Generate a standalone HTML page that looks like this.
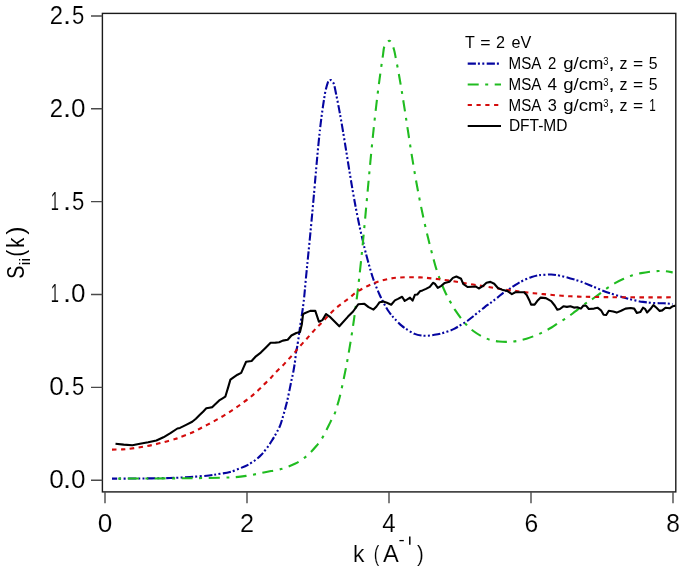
<!DOCTYPE html>
<html><head><meta charset="utf-8"><style>
html,body{margin:0;padding:0;background:#fff;width:685px;height:572px;overflow:hidden}
svg{display:block;will-change:transform}
text{font-family:"Liberation Sans",sans-serif}
text[font-size="25"],text[font-size="24"],text[font-size="22.5"]{stroke:#fff;stroke-width:0.15px}
</style></head><body>
<svg width="685" height="572" viewBox="0 0 685 572" font-family='"Liberation Sans", sans-serif' fill="#000"><rect x="0" y="0" width="685" height="572" fill="#fff"/>
<defs><clipPath id="pc"><rect x="102.4" y="13.4" width="573.4" height="478.5"/></clipPath></defs>
<g clip-path="url(#pc)" fill="none" stroke-width="2.1" stroke-linejoin="round">
<path d="M112.00,478.60 C116.67,478.58 130.33,478.60 140.00,478.50 C149.67,478.40 161.67,478.25 170.00,478.00 C178.33,477.75 183.50,477.42 190.00,477.00 C196.50,476.58 204.00,476.03 209.00,475.50 C214.00,474.97 216.50,474.38 220.00,473.80 C223.50,473.22 226.67,472.92 230.00,472.00 C233.33,471.08 237.00,469.50 240.00,468.30 C243.00,467.10 245.40,466.20 248.00,464.80 C250.60,463.40 253.42,461.53 255.60,459.90 C257.78,458.27 259.17,457.05 261.10,455.00 C263.03,452.95 265.37,450.05 267.20,447.60 C269.03,445.15 270.57,442.75 272.10,440.30 C273.63,437.85 275.07,435.35 276.40,432.90 C277.73,430.45 278.97,428.45 280.10,425.60 C281.23,422.75 282.28,418.87 283.20,415.80 C284.12,412.73 284.80,410.27 285.60,407.20 C286.40,404.13 286.97,402.13 288.00,397.40 C289.03,392.67 291.00,382.60 291.80,378.80 C292.60,375.00 292.42,376.52 292.80,374.60 C293.18,372.68 293.70,369.70 294.10,367.30 C294.50,364.90 294.85,362.92 295.20,360.20 C295.55,357.48 295.88,353.15 296.20,351.00 C296.52,348.85 296.68,349.68 297.10,347.30 C297.52,344.92 298.20,340.20 298.70,336.70 C299.20,333.20 299.62,329.67 300.10,326.30 C300.58,322.93 301.08,319.97 301.60,316.50 C302.12,313.03 302.73,309.17 303.20,305.50 C303.67,301.83 304.04,298.38 304.43,294.50 C304.82,290.62 305.14,286.62 305.55,282.20 C305.97,277.78 306.54,271.93 306.93,268.00 C307.31,264.07 307.45,262.78 307.86,258.60 C308.28,254.42 308.91,248.13 309.42,242.90 C309.94,237.67 310.45,232.45 310.94,227.20 C311.44,221.95 311.94,216.65 312.42,211.40 C312.90,206.15 313.31,201.60 313.83,195.70 C314.35,189.80 315.05,181.62 315.54,176.00 C316.03,170.38 316.35,166.67 316.78,162.00 C317.20,157.33 317.62,152.67 318.07,148.00 C318.52,143.33 319.12,137.55 319.49,134.00 C319.86,130.45 319.95,129.67 320.30,126.70 C320.65,123.73 321.18,119.35 321.59,116.20 C322.00,113.05 322.31,110.78 322.75,107.80 C323.18,104.82 323.76,101.10 324.22,98.30 C324.67,95.50 324.89,93.62 325.48,91.00 C326.08,88.38 327.15,84.33 327.80,82.60 C328.45,80.87 328.90,81.02 329.40,80.60 C329.90,80.18 330.33,80.00 330.80,80.10 C331.27,80.20 331.67,80.50 332.20,81.20 C332.73,81.90 333.35,82.25 333.99,84.30 C334.62,86.35 335.39,90.63 336.00,93.50 C336.60,96.37 337.05,98.60 337.63,101.50 C338.20,104.40 338.85,107.82 339.42,110.90 C340.00,113.98 340.39,116.15 341.06,120.00 C341.74,123.85 342.67,129.33 343.45,134.00 C344.22,138.67 344.97,143.33 345.72,148.00 C346.48,152.67 347.21,157.33 347.96,162.00 C348.71,166.67 349.54,171.82 350.23,176.00 C350.92,180.18 351.40,183.10 352.09,187.10 C352.78,191.10 353.70,196.32 354.36,200.00 C355.03,203.68 355.14,204.45 356.08,209.20 C357.02,213.95 358.61,222.08 360.00,228.50 C361.40,234.92 363.18,242.45 364.46,247.70 C365.73,252.95 366.62,256.20 367.65,260.00 C368.67,263.80 369.70,267.42 370.60,270.50 C371.51,273.58 372.17,275.78 373.10,278.50 C374.03,281.22 375.12,284.08 376.20,286.80 C377.28,289.52 378.65,292.68 379.60,294.80 C380.55,296.92 381.13,297.97 381.90,299.50 C382.67,301.03 383.23,302.25 384.20,304.00 C385.17,305.75 386.35,307.97 387.70,310.00 C389.05,312.03 391.08,314.68 392.30,316.20 C393.52,317.72 393.45,317.53 395.00,319.10 C396.55,320.67 399.42,323.75 401.60,325.60 C403.78,327.45 405.92,328.82 408.10,330.20 C410.28,331.58 412.50,333.02 414.70,333.90 C416.90,334.78 419.10,335.20 421.30,335.50 C423.50,335.80 425.72,335.82 427.90,335.70 C430.08,335.58 432.22,335.17 434.40,334.80 C436.58,334.43 438.80,334.05 441.00,333.50 C443.20,332.95 445.42,332.27 447.60,331.50 C449.78,330.73 451.92,329.98 454.10,328.90 C456.28,327.82 458.50,326.32 460.70,325.00 C462.90,323.68 465.12,322.53 467.30,321.00 C469.48,319.47 471.62,317.55 473.80,315.80 C475.98,314.05 478.53,312.00 480.40,310.50 C482.27,309.00 483.55,307.90 485.00,306.80 C486.45,305.70 487.78,304.85 489.10,303.90 C490.42,302.95 491.50,302.15 492.90,301.10 C494.30,300.05 495.68,299.05 497.50,297.60 C499.32,296.15 501.82,293.85 503.80,292.40 C505.78,290.95 507.77,289.95 509.40,288.90 C511.03,287.85 511.97,287.15 513.60,286.10 C515.23,285.05 517.17,283.73 519.20,282.60 C521.23,281.47 523.72,280.23 525.80,279.30 C527.88,278.37 529.75,277.65 531.70,277.00 C533.65,276.35 535.72,275.75 537.50,275.40 C539.28,275.05 540.12,275.05 542.40,274.90 C544.68,274.75 548.27,274.37 551.20,274.50 C554.13,274.63 556.80,275.05 560.00,275.70 C563.20,276.35 566.98,277.43 570.40,278.40 C573.82,279.37 577.15,280.32 580.50,281.50 C583.85,282.68 587.08,284.10 590.50,285.50 C593.92,286.90 597.50,288.53 601.00,289.90 C604.50,291.27 608.00,292.53 611.50,293.70 C615.00,294.87 618.52,295.88 622.00,296.90 C625.48,297.92 628.90,298.97 632.40,299.80 C635.90,300.63 639.50,301.37 643.00,301.90 C646.50,302.43 649.92,302.77 653.40,303.00 C656.88,303.23 660.68,303.13 663.90,303.30 C667.12,303.47 671.23,303.88 672.70,304.00" stroke="#0505a0" stroke-dasharray="8.2 2 2 2.4 2 2.4" stroke-dashoffset="2.95"/>
<path d="M112.00,478.60 C118.33,478.58 137.00,478.57 150.00,478.50 C163.00,478.43 176.67,478.38 190.00,478.20 C203.33,478.02 220.42,477.82 230.00,477.40 C239.58,476.98 241.67,476.57 247.50,475.70 C253.33,474.83 259.18,473.37 265.00,472.20 C270.82,471.03 277.42,470.10 282.40,468.70 C287.38,467.30 291.48,465.43 294.90,463.80 C298.32,462.17 300.45,460.65 302.90,458.90 C305.35,457.15 307.37,455.45 309.60,453.30 C311.83,451.15 314.27,448.43 316.30,446.00 C318.33,443.57 320.17,441.25 321.80,438.70 C323.43,436.15 324.67,433.47 326.10,430.70 C327.53,427.93 328.97,424.95 330.40,422.10 C331.83,419.25 333.58,416.25 334.70,413.60 C335.82,410.95 336.23,409.10 337.10,406.20 C337.97,403.30 338.92,400.23 339.92,396.20 C340.92,392.17 342.13,386.47 343.08,382.00 C344.04,377.53 344.93,373.07 345.65,369.40 C346.38,365.73 346.62,364.58 347.43,360.00 C348.25,355.42 349.46,348.77 350.57,341.90 C351.68,335.03 352.95,326.82 354.08,318.80 C355.21,310.78 356.30,302.45 357.35,293.80 C358.41,285.15 359.57,274.58 360.41,266.90 C361.25,259.22 361.74,254.10 362.38,247.70 C363.01,241.30 363.62,234.92 364.22,228.50 C364.82,222.08 365.41,215.62 366.00,209.20 C366.59,202.78 367.24,195.53 367.75,190.00 C368.25,184.47 368.60,180.67 369.03,176.00 C369.47,171.33 369.90,166.67 370.35,162.00 C370.79,157.33 371.24,152.67 371.70,148.00 C372.17,143.33 372.64,138.67 373.12,134.00 C373.61,129.33 374.08,124.83 374.62,120.00 C375.15,115.17 375.80,109.50 376.32,105.00 C376.85,100.50 377.31,96.73 377.77,93.00 C378.24,89.27 378.72,85.55 379.10,82.60 C379.48,79.65 379.69,78.15 380.08,75.30 C380.47,72.45 380.99,68.68 381.44,65.50 C381.90,62.32 382.33,59.38 382.81,56.20 C383.28,53.02 383.57,48.70 384.32,46.40 C385.06,44.10 386.47,43.33 387.30,42.40 C388.13,41.47 388.62,40.77 389.30,40.80 C389.98,40.83 390.61,41.12 391.40,42.60 C392.19,44.08 393.33,47.22 394.04,49.70 C394.76,52.18 395.06,54.42 395.68,57.50 C396.30,60.58 397.13,64.83 397.76,68.20 C398.40,71.57 398.95,74.68 399.48,77.70 C400.02,80.72 400.45,83.23 400.96,86.30 C401.48,89.37 401.91,91.95 402.57,96.10 C403.24,100.25 404.23,106.60 404.95,111.20 C405.66,115.80 406.18,119.23 406.86,123.70 C407.55,128.17 408.34,133.37 409.05,138.00 C409.77,142.63 410.45,147.00 411.17,151.50 C411.89,156.00 412.61,160.50 413.37,165.00 C414.12,169.50 414.89,174.00 415.69,178.50 C416.49,183.00 417.31,187.52 418.16,192.00 C419.02,196.48 419.81,200.60 420.80,205.40 C421.79,210.20 422.86,215.35 424.08,220.80 C425.30,226.25 426.78,232.65 428.11,238.10 C429.43,243.55 431.08,249.85 432.02,253.50 C432.97,257.15 433.11,257.60 433.77,260.00 C434.43,262.40 435.12,265.13 435.98,267.90 C436.83,270.67 437.85,273.67 438.90,276.60 C439.95,279.53 441.17,282.73 442.30,285.50 C443.43,288.27 444.68,291.02 445.70,293.20 C446.72,295.38 447.52,296.97 448.40,298.60 C449.28,300.23 449.87,301.07 451.00,303.00 C452.13,304.93 453.53,307.67 455.20,310.20 C456.87,312.73 458.93,315.57 461.00,318.20 C463.07,320.83 465.55,323.87 467.60,326.00 C469.65,328.13 471.03,329.33 473.30,331.00 C475.57,332.67 478.47,334.55 481.20,336.00 C483.93,337.45 486.75,338.78 489.70,339.70 C492.65,340.62 495.83,341.13 498.90,341.50 C501.97,341.87 505.03,341.98 508.10,341.90 C511.17,341.82 514.23,341.53 517.30,341.00 C520.37,340.47 523.43,339.63 526.50,338.70 C529.57,337.77 532.85,336.55 535.70,335.40 C538.55,334.25 540.97,333.12 543.60,331.80 C546.23,330.48 548.87,329.10 551.50,327.50 C554.13,325.90 556.73,323.90 559.40,322.20 C562.07,320.50 564.92,319.05 567.50,317.30 C570.08,315.55 571.98,313.95 574.90,311.70 C577.82,309.45 582.45,305.63 585.00,303.80 C587.55,301.97 588.17,302.07 590.20,300.70 C592.23,299.33 594.53,297.58 597.20,295.60 C599.87,293.62 603.23,290.87 606.20,288.80 C609.17,286.73 612.08,284.87 615.00,283.20 C617.92,281.53 620.80,280.12 623.70,278.80 C626.60,277.48 629.48,276.25 632.40,275.30 C635.32,274.35 638.27,273.70 641.20,273.10 C644.13,272.50 647.08,272.05 650.00,271.70 C652.92,271.35 656.08,271.07 658.70,271.00 C661.32,270.93 663.37,271.07 665.70,271.30 C668.03,271.53 671.53,272.22 672.70,272.40" stroke="#20bc20" stroke-dasharray="11 6.5 3 6.5" stroke-dashoffset="11.25"/>
<path d="M112.00,449.60 C113.65,449.57 119.17,449.52 121.90,449.40 C124.63,449.28 125.38,449.27 128.40,448.90 C131.42,448.53 136.12,447.83 140.00,447.20 C143.88,446.57 147.80,445.92 151.70,445.10 C155.60,444.28 159.52,443.32 163.40,442.30 C167.28,441.28 172.23,439.85 175.00,439.00 C177.77,438.15 177.22,438.23 180.00,437.20 C182.78,436.17 187.80,434.53 191.70,432.80 C195.60,431.07 199.52,428.82 203.40,426.80 C207.28,424.78 211.12,422.87 215.00,420.70 C218.88,418.53 222.80,416.25 226.70,413.80 C230.60,411.35 234.50,408.75 238.40,406.00 C242.30,403.25 246.80,399.92 250.10,397.30 C253.40,394.68 255.88,392.42 258.20,390.30 C260.52,388.18 261.95,386.60 264.00,384.60 C266.05,382.60 268.63,380.27 270.50,378.30 C272.37,376.33 273.32,374.77 275.20,372.80 C277.08,370.83 279.70,368.63 281.80,366.50 C283.90,364.37 285.83,362.13 287.80,360.00 C289.77,357.87 291.62,355.95 293.60,353.70 C295.58,351.45 297.68,348.80 299.70,346.50 C301.72,344.20 303.73,342.08 305.70,339.90 C307.67,337.72 309.53,335.58 311.50,333.40 C313.47,331.22 315.53,328.87 317.50,326.80 C319.47,324.73 321.22,323.17 323.30,321.00 C325.38,318.83 327.78,316.03 330.00,313.80 C332.22,311.57 334.42,309.47 336.60,307.60 C338.78,305.73 340.92,304.27 343.10,302.60 C345.28,300.93 347.50,299.32 349.70,297.60 C351.90,295.88 353.88,293.95 356.30,292.30 C358.72,290.65 361.58,289.08 364.20,287.70 C366.82,286.32 369.38,285.10 372.00,284.00 C374.62,282.90 377.05,281.97 379.90,281.10 C382.75,280.23 386.03,279.38 389.10,278.80 C392.17,278.22 395.02,277.87 398.30,277.60 C401.58,277.33 405.18,277.23 408.80,277.20 C412.42,277.17 416.67,277.25 420.00,277.40 C423.33,277.55 425.63,277.78 428.80,278.10 C431.97,278.42 435.60,278.90 439.00,279.30 C442.40,279.70 445.80,280.02 449.20,280.50 C452.60,280.98 456.00,281.62 459.40,282.20 C462.80,282.78 466.18,283.43 469.60,284.00 C473.02,284.57 476.88,285.13 479.90,285.60 C482.92,286.07 485.00,286.37 487.70,286.80 C490.40,287.23 493.30,287.73 496.10,288.20 C498.90,288.67 501.58,289.18 504.50,289.60 C507.42,290.02 511.02,290.38 513.60,290.70 C516.18,291.02 516.98,291.12 520.00,291.50 C523.02,291.88 527.80,292.57 531.70,293.00 C535.60,293.43 539.52,293.73 543.40,294.10 C547.28,294.47 551.12,294.87 555.00,295.20 C558.88,295.53 562.80,295.87 566.70,296.10 C570.60,296.33 574.12,296.47 578.40,296.60 C582.68,296.73 586.30,296.80 592.40,296.90 C598.50,297.00 605.40,297.12 615.00,297.20 C624.60,297.28 640.38,297.38 650.00,297.40 C659.62,297.42 668.92,297.32 672.70,297.30" stroke="#d40c0c" stroke-dasharray="4.5 4.4"/>
<path d="M115.50,443.70 L123.70,444.60 L132.40,445.20 L140.00,443.70 L148.20,442.30 L156.40,440.50 L163.40,437.30 L170.40,433.20 L177.40,428.50 L180.00,427.90 L186.10,424.90 L192.20,421.80 L195.90,418.80 L199.60,415.10 L203.30,411.40 L206.30,408.30 L209.40,407.70 L212.40,407.10 L215.50,404.10 L219.20,400.40 L222.20,398.60 L225.30,396.70 L228.30,386.90 L230.40,379.60 L233.90,377.10 L237.50,374.70 L241.20,372.90 L243.60,367.30 L246.10,361.80 L251.60,361.00 L255.90,356.30 L260.80,352.60 L265.70,347.70 L270.60,342.80 L275.50,342.60 L279.20,342.20 L282.80,340.60 L287.70,339.80 L291.40,335.50 L296.30,333.00 L300.00,332.10 L301.80,324.50 L303.00,314.50 L304.10,313.50 L310.20,310.90 L315.30,310.90 L318.90,321.70 L322.50,320.10 L326.00,314.00 L329.60,316.60 L339.30,326.30 L348.00,316.60 L353.10,311.50 L358.20,304.30 L364.40,303.80 L368.60,307.10 L373.50,309.60 L376.50,306.50 L379.60,302.20 L383.30,301.60 L386.90,302.80 L391.20,304.70 L394.90,300.40 L398.00,298.90 L402.10,296.80 L404.70,300.90 L407.30,299.40 L410.00,297.70 L412.60,300.60 L414.90,294.80 L417.30,294.50 L419.90,291.30 L422.50,290.40 L426.00,288.90 L429.80,286.90 L433.00,282.80 L434.80,283.70 L437.80,287.90 L441.30,285.80 L444.80,282.90 L449.40,281.70 L452.90,277.90 L456.40,276.50 L461.10,278.80 L463.20,283.80 L467.50,287.00 L472.20,286.70 L476.00,286.60 L478.80,288.50 L482.70,286.20 L486.50,282.70 L490.40,281.90 L494.20,283.80 L497.90,288.00 L503.10,290.10 L507.50,291.10 L511.90,294.10 L515.30,292.30 L520.60,292.30 L524.10,292.30 L526.70,295.00 L529.30,300.20 L531.10,304.60 L534.60,304.60 L537.20,301.10 L540.70,297.60 L545.90,298.10 L551.20,301.10 L554.70,305.50 L557.30,309.80 L559.90,309.00 L563.40,306.30 L566.90,306.90 L570.40,306.30 L573.90,307.60 L577.40,307.20 L580.90,308.60 L583.50,305.50 L586.20,305.80 L588.80,309.00 L594.00,308.60 L597.50,307.70 L601.00,310.30 L603.60,314.70 L606.20,315.00 L608.80,310.80 L613.20,311.50 L616.70,312.60 L621.10,310.80 L625.50,308.60 L630.70,308.00 L634.20,308.60 L636.80,312.90 L640.30,312.10 L643.00,307.70 L645.00,308.80 L647.10,312.50 L650.20,309.30 L653.40,305.10 L656.50,307.70 L659.70,310.90 L662.30,310.40 L665.50,307.70 L669.70,308.30 L672.80,306.20 L676.00,305.60" stroke="#000"/>
</g>
<rect x="102.4" y="13.4" width="573.4" height="478.5" fill="none" stroke="#1a1a1a" stroke-width="1.4"/>
<path d="M91,480.20 H102.4 M91,387.35 H102.4 M91,294.50 H102.4 M91,201.65 H102.4 M91,108.80 H102.4 M91,15.95 H102.4 M105.00,491.9 V503.3 M247.00,491.9 V503.3 M389.00,491.9 V503.3 M531.00,491.9 V503.3 M673.00,491.9 V503.3" stroke="#4a4a4a" stroke-width="1.4" fill="none"/>
<path d="M399.4,540.6 H403.8" stroke="#000" stroke-width="1.3"/>
<path d="M409.8,536.6 V544.8" stroke="#000" stroke-width="1.5"/>
<path d="M467.7,63.60 H501" stroke="#0505a0" stroke-width="2.2" stroke-dasharray="8.2 2 2 2.4 2 2.4" fill="none"/>
<path d="M467.7,84.50 H501" stroke="#20bc20" stroke-width="2.2" stroke-dasharray="11 6.5 3 6.5" fill="none"/>
<path d="M467.7,105.00 H501" stroke="#d40c0c" stroke-width="2.2" stroke-dasharray="4.2 4.6" fill="none"/>
<path d="M467.7,126 H501" stroke="#000" stroke-width="2.2" fill="none"/>
<text x="49.15" y="488.00" font-size="25" textLength="14.60" lengthAdjust="spacingAndGlyphs">0</text>
<text x="62.81" y="488.00" font-size="25" textLength="8.62" lengthAdjust="spacingAndGlyphs">.</text>
<text x="70.96" y="488.00" font-size="25" textLength="14.49" lengthAdjust="spacingAndGlyphs">0</text>
<text x="49.15" y="395.00" font-size="25" textLength="14.60" lengthAdjust="spacingAndGlyphs">0</text>
<text x="62.81" y="395.00" font-size="25" textLength="8.62" lengthAdjust="spacingAndGlyphs">.</text>
<text x="72.12" y="395.00" font-size="25" textLength="12.28" lengthAdjust="spacingAndGlyphs">5</text>
<text x="50.78" y="302.00" font-size="25" textLength="8.09" lengthAdjust="spacingAndGlyphs">1</text>
<text x="62.81" y="302.00" font-size="25" textLength="8.62" lengthAdjust="spacingAndGlyphs">.</text>
<text x="70.96" y="302.00" font-size="25" textLength="14.49" lengthAdjust="spacingAndGlyphs">0</text>
<text x="50.78" y="210.00" font-size="25" textLength="8.09" lengthAdjust="spacingAndGlyphs">1</text>
<text x="62.81" y="210.00" font-size="25" textLength="8.62" lengthAdjust="spacingAndGlyphs">.</text>
<text x="72.12" y="210.00" font-size="25" textLength="12.28" lengthAdjust="spacingAndGlyphs">5</text>
<text x="49.80" y="117.00" font-size="25" textLength="13.30" lengthAdjust="spacingAndGlyphs">2</text>
<text x="62.81" y="117.00" font-size="25" textLength="8.62" lengthAdjust="spacingAndGlyphs">.</text>
<text x="70.96" y="117.00" font-size="25" textLength="14.49" lengthAdjust="spacingAndGlyphs">0</text>
<text x="49.80" y="24.00" font-size="25" textLength="13.30" lengthAdjust="spacingAndGlyphs">2</text>
<text x="62.81" y="24.00" font-size="25" textLength="8.62" lengthAdjust="spacingAndGlyphs">.</text>
<text x="72.12" y="24.00" font-size="25" textLength="12.28" lengthAdjust="spacingAndGlyphs">5</text>
<text x="97.85" y="531.80" font-size="25" textLength="14.60" lengthAdjust="spacingAndGlyphs">0</text>
<text x="240.04" y="531.80" font-size="25" textLength="14.03" lengthAdjust="spacingAndGlyphs">2</text>
<text x="382.32" y="531.80" font-size="25" textLength="13.42" lengthAdjust="spacingAndGlyphs">4</text>
<text x="524.47" y="531.80" font-size="25" textLength="13.73" lengthAdjust="spacingAndGlyphs">6</text>
<text x="666.22" y="531.80" font-size="25" textLength="13.67" lengthAdjust="spacingAndGlyphs">8</text>
<text x="352.97" y="561.70" font-size="24" textLength="11.43" lengthAdjust="spacingAndGlyphs">k</text>
<text x="373.68" y="560.80" font-size="22.5" textLength="5.50" lengthAdjust="spacingAndGlyphs">(</text>
<text x="383.00" y="561.70" font-size="24" textLength="15.82" lengthAdjust="spacingAndGlyphs">A</text>
<text x="416.97" y="560.80" font-size="22.5" textLength="6.75" lengthAdjust="spacingAndGlyphs">)</text>
<text transform="translate(24.10,278.80) rotate(-90)" font-size="24.5" textLength="13.07" lengthAdjust="spacingAndGlyphs">S</text>
<text transform="translate(29.90,265.25) rotate(-90)" font-size="14.5" textLength="7.34" lengthAdjust="spacingAndGlyphs">ii</text>
<text transform="translate(24.10,256.46) rotate(-90)" font-size="23.5" textLength="6.62" lengthAdjust="spacingAndGlyphs">(</text>
<text transform="translate(24.10,247.79) rotate(-90)" font-size="23.5" textLength="10.09" lengthAdjust="spacingAndGlyphs">k</text>
<text transform="translate(24.10,234.86) rotate(-90)" font-size="23.5" textLength="8.27" lengthAdjust="spacingAndGlyphs">)</text>
<text x="465.05" y="47.90" font-size="16" textLength="9.83" lengthAdjust="spacingAndGlyphs">T</text>
<text x="480.18" y="47.90" font-size="16" textLength="10.28" lengthAdjust="spacingAndGlyphs">=</text>
<text x="496.04" y="47.90" font-size="16" textLength="9.02" lengthAdjust="spacingAndGlyphs">2</text>
<text x="511.49" y="47.90" font-size="16" textLength="19.78" lengthAdjust="spacingAndGlyphs">eV</text>
<text x="508.62" y="69.00" font-size="16" textLength="32.85" lengthAdjust="spacingAndGlyphs">MSA</text>
<text x="548.10" y="69.00" font-size="16" textLength="8.31" lengthAdjust="spacingAndGlyphs">2</text>
<text x="563.22" y="69.00" font-size="16" textLength="40.15" lengthAdjust="spacingAndGlyphs">g/cm</text>
<text x="603.28" y="64.80" font-size="10.5" textLength="5.23" lengthAdjust="spacingAndGlyphs">3</text>
<text x="608.20" y="69.00" font-size="16" textLength="6.53" lengthAdjust="spacingAndGlyphs">,</text>
<text x="619.60" y="69.00" font-size="16" textLength="7.94" lengthAdjust="spacingAndGlyphs">z</text>
<text x="632.98" y="69.00" font-size="16" textLength="10.16" lengthAdjust="spacingAndGlyphs">=</text>
<text x="648.76" y="69.00" font-size="16" textLength="8.79" lengthAdjust="spacingAndGlyphs">5</text>
<text x="508.62" y="90.00" font-size="16" textLength="32.85" lengthAdjust="spacingAndGlyphs">MSA</text>
<text x="547.63" y="90.00" font-size="16" textLength="9.50" lengthAdjust="spacingAndGlyphs">4</text>
<text x="563.22" y="90.00" font-size="16" textLength="40.15" lengthAdjust="spacingAndGlyphs">g/cm</text>
<text x="603.28" y="85.80" font-size="10.5" textLength="5.23" lengthAdjust="spacingAndGlyphs">3</text>
<text x="608.20" y="90.00" font-size="16" textLength="6.53" lengthAdjust="spacingAndGlyphs">,</text>
<text x="619.60" y="90.00" font-size="16" textLength="7.94" lengthAdjust="spacingAndGlyphs">z</text>
<text x="632.98" y="90.00" font-size="16" textLength="10.16" lengthAdjust="spacingAndGlyphs">=</text>
<text x="648.76" y="90.00" font-size="16" textLength="8.79" lengthAdjust="spacingAndGlyphs">5</text>
<text x="508.62" y="111.00" font-size="16" textLength="32.85" lengthAdjust="spacingAndGlyphs">MSA</text>
<text x="547.79" y="111.00" font-size="16" textLength="9.08" lengthAdjust="spacingAndGlyphs">3</text>
<text x="563.22" y="111.00" font-size="16" textLength="40.15" lengthAdjust="spacingAndGlyphs">g/cm</text>
<text x="603.28" y="106.80" font-size="10.5" textLength="5.23" lengthAdjust="spacingAndGlyphs">3</text>
<text x="608.20" y="111.00" font-size="16" textLength="6.53" lengthAdjust="spacingAndGlyphs">,</text>
<text x="619.60" y="111.00" font-size="16" textLength="7.94" lengthAdjust="spacingAndGlyphs">z</text>
<text x="632.98" y="111.00" font-size="16" textLength="10.16" lengthAdjust="spacingAndGlyphs">=</text>
<text x="649.37" y="111.00" font-size="16" textLength="6.51" lengthAdjust="spacingAndGlyphs">1</text>
<text x="508.89" y="131.30" font-size="16" textLength="58.58" lengthAdjust="spacingAndGlyphs">DFT-MD</text></svg>
</body></html>
